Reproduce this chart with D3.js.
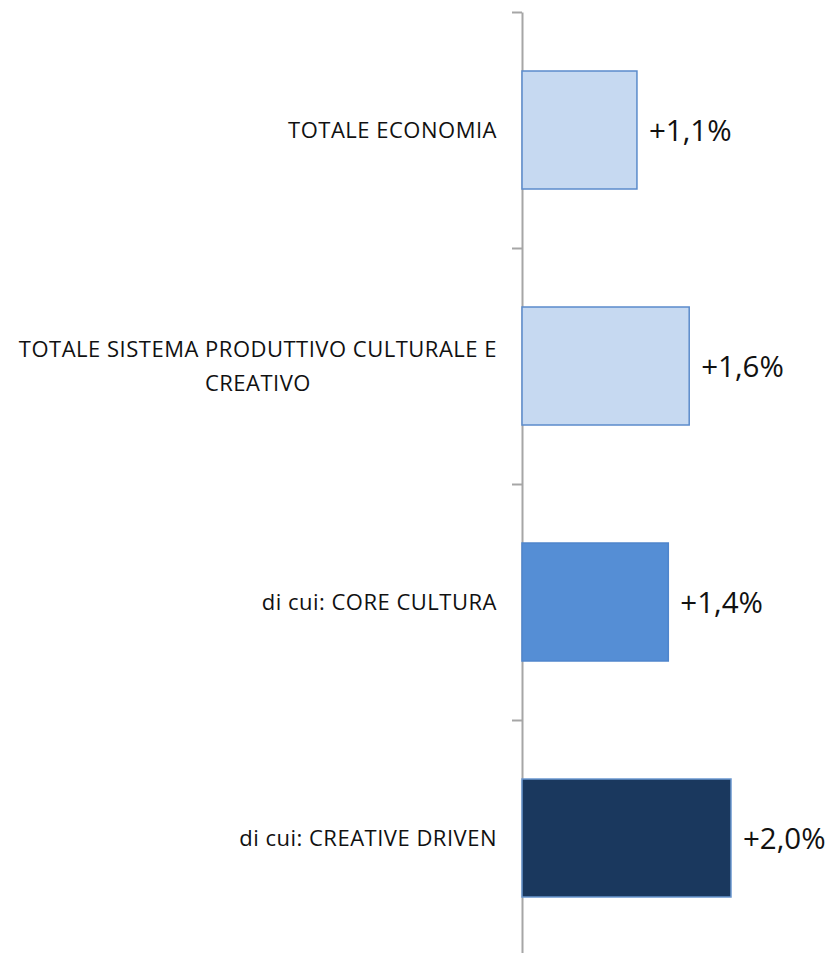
<!DOCTYPE html>
<html>
<head>
<meta charset="utf-8">
<script src="https://cdn.jsdelivr.net/npm/d3@7"></script>
<style>
  body { margin: 0; background: #fff; }
  svg { display: block; }
</style>
</head>
<body>
<div id="chart"></div>
<script>
// categories, top to bottom, each split into its printed lines
const categories = [
  ["TOTALE ECONOMIA"],
  ["TOTALE SISTEMA PRODUTTIVO CULTURALE E", "CREATIVO"],
  ["di cui: CORE CULTURA"],
  ["di cui: CREATIVE DRIVEN"]
];
const values = [1.1, 1.6, 1.4, 2.0];
const valueLabels = ["+1,1%", "+1,6%", "+1,4%", "+2,0%"];
const fills = ["#c6d9f1", "#c6d9f1", "#558ed5", "#1a385e"];
const strokes = ["#5b8bcb", "#5b8bcb", "#4f85cc", "#6a97cf"];

const width = 833, height = 953;
const axisX = 522;

const svg = d3.select("#chart").append("svg")
  .attr("width", width)
  .attr("height", height);

const ids = d3.range(categories.length);

// band scale for the bars (gap width 100%, like excel)
const y = d3.scaleBand()
  .domain(ids)
  .range([12, 956])
  .paddingInner(0.5)
  .paddingOuter(0.25);

const x = d3.scaleLinear()
  .domain([0, 2.0])
  .range([axisX, 731]);

// category axis: ticks sit between categories
const yEdges = d3.scaleLinear()
  .domain([0, categories.length])
  .range([12, 956]);

const axis = svg.append("g")
  .attr("transform", `translate(${axisX},0)`)
  .call(d3.axisLeft(yEdges)
    .tickValues(d3.range(categories.length + 1))
    .tickSize(10)
    .tickSizeOuter(0)
    .tickFormat(""));
axis.select(".domain").attr("stroke", "#a6a6a6").attr("stroke-width", 2);
axis.selectAll(".tick line").attr("stroke", "#a6a6a6").attr("stroke-width", 2);

// bars
svg.append("g").selectAll("rect")
  .data(ids)
  .join("rect")
  .attr("x", x(0))
  .attr("y", i => y(i))
  .attr("width", i => x(values[i]) - x(0))
  .attr("height", y.bandwidth())
  .attr("fill", i => fills[i])
  .attr("stroke", i => strokes[i])
  .attr("stroke-width", 1.5);

// value labels
svg.append("g").selectAll("text")
  .data(ids)
  .join("text")
  .attr("x", i => x(values[i]) + 12)
  .attr("y", i => y(i) + y.bandwidth() / 2)
  .attr("dy", "0.36em")
  .attr("font-family", "'Open Sans', sans-serif")
  .attr("font-size", 29.5)
  .attr("fill", "#111")
  .text(i => valueLabels[i]);

// category labels, multi-line ones centred on their widest line
const lineGap = 34;
const labels = svg.append("g")
  .attr("font-family", "'Open Sans', sans-serif")
  .attr("font-size", 22)
  .attr("letter-spacing", 0.5)
  .attr("fill", "#111");

ids.forEach(i => {
  let lines = categories[i];
  let cy = y(i) + y.bandwidth() / 2;
  let g = labels.append("g");
  let texts = g.selectAll("text")
    .data(lines)
    .join("text")
    .attr("y", (d, k) => cy + (k - (lines.length - 1) / 2) * lineGap)
    .attr("dy", "0.36em")
    .attr("text-anchor", "middle")
    .text(d => d);
  let w = d3.max(texts.nodes(), n => n.getComputedTextLength());
  texts.attr("x", axisX - 25 - w / 2);
});
</script>
</body>
</html>
